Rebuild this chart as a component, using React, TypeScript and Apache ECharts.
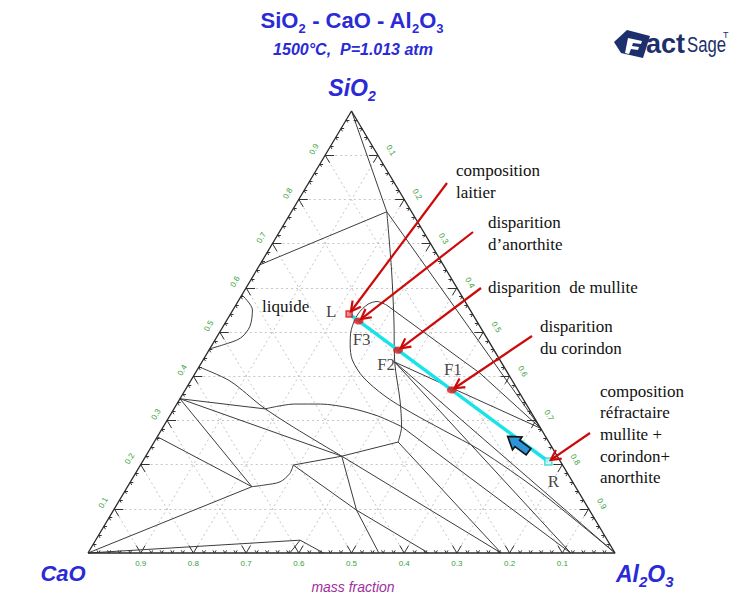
import React, { useEffect, useRef } from "react";
import * as echarts from "echarts";

type P = [number, number]; // [Al2O3, SiO2] mass fractions ; CaO = 1 - Al2O3 - SiO2

// ---------------- tick data ----------------
const majorTicks = [0.1, 0.2, 0.3, 0.4, 0.5, 0.6, 0.7, 0.8, 0.9];
const majorTickLabels = ["0.1", "0.2", "0.3", "0.4", "0.5", "0.6", "0.7", "0.8", "0.9"];
const minorStep = 0.02;

// ---------------- corners & compounds ----------------
const SIO2: P = [0, 1];
const CAO: P = [0, 0];
const AL2O3: P = [1, 0];
const MULLITE: P = [0.718, 0.282];
const ANORTHITE: P = [0.366, 0.432];
const GEHLENITE: P = [0.372, 0.219];
const C2S: P = [0, 0.349];
const C3S: P = [0, 0.263];
const C3A: P = [0.383, 0];
const CA: P = [0.646, 0];
const CA2: P = [0.784, 0];
const CA6: P = [0.916, 0];

// ---------------- liquid / junction points ----------------
const LIQ_SM: P = [0.181, 0.772];
const LIQ_CS: P = [0, 0.652];
const LIQ_CA: P = [0.388, 0.029];
const LIQ_C3S: P = [0.236, 0.15];
const LIQ_AN: P = [0.286, 0.561];
const JUNC_A: P = [0.452, 0.286];
const JUNC_B: P = [0.463, 0.251];
const JUNC_C: P = [0.461, 0.097];
const BULGE_TOP: P = [0.29, 0.199];
const HUMP_START: P = [0.173, 0.326];
const LIQ_BOT_1: P = [0.447, 0];
const LIQ_BOT_2: P = [0.552, 0];

// straight boundaries / tie lines
const straightLines: P[][] = [
  [SIO2, LIQ_SM],
  [LIQ_SM, LIQ_CS],
  [LIQ_SM, MULLITE],
  [ANORTHITE, MULLITE],
  [ANORTHITE, AL2O3],
  [ANORTHITE, CA6],
  [JUNC_A, CA6],
  [JUNC_B, CA2],
  [JUNC_B, GEHLENITE],
  [GEHLENITE, CA2],
  [GEHLENITE, JUNC_C, LIQ_BOT_2],
  [BULGE_TOP, JUNC_C, CA],
  [BULGE_TOP, GEHLENITE],
  [C2S, GEHLENITE],
  [C2S, LIQ_C3S],
  [C2S, HUMP_START],
  [C3S, LIQ_C3S],
  [CAO, LIQ_C3S],
  [CAO, LIQ_CA],
  [LIQ_CA, C3A],
  [LIQ_CA, LIQ_BOT_1],
  [LIQ_AN, [0.54, 0.407], MULLITE],
];

// curved boundaries
const verticalBoundary: P[] = [LIQ_SM, [0.256, 0.64], [0.317, 0.527], ANORTHITE, [0.419, 0.346], JUNC_A, JUNC_B];
const anorthiteLoop: P[] = [
  LIQ_AN, [0.264, 0.569], [0.25, 0.563], [0.242, 0.541], [0.247, 0.505], [0.262, 0.471],
  [0.283, 0.437], [0.323, 0.398], [0.386, 0.355], [0.452, 0.319], [0.535, 0.278],
  [0.627, 0.233], [0.789, 0.138], AL2O3,
];
const humpCurve: P[] = [HUMP_START, [0.224, 0.337], [0.272, 0.337], [0.333, 0.328], [0.395, 0.31], JUNC_A];
const leftCurve: P[] = [[0, 0.421], [0.075, 0.389], [0.167, 0.33], [0.247, 0.285], GEHLENITE];
const bulgeCurve: P[] = [LIQ_C3S, [0.259, 0.154], [0.284, 0.161], [0.293, 0.18], BULGE_TOP];
const wollastoniteArc: P[] = [[0, 0.584], [0.037, 0.55], [0.051, 0.512], [0.046, 0.486], [0.021, 0.471], [0, 0.462]];
const curvedLines: P[][] = [verticalBoundary, anorthiteLoop, humpCurve, leftCurve, bulgeCurve, wollastoniteArc];

// ---------------- cooling path ----------------
const pathL: P = [0.225, 0.541];
const pathF3: P = [0.251, 0.525];
const pathF2: P = [0.359, 0.459];
const pathF1: P = [0.506, 0.369];
const pathR: P = [0.77, 0.207];

// ---------------- layout (pixels) ----------------
const W = 729, H = 596;
const PX_L = 88, PX_R = 615, PX_T = 111, PX_B = 553;
const XMIN = -PX_L / (PX_R - PX_L);
const XMAX = (W - PX_L) / (PX_R - PX_L);
const YMIN = -(H - PX_B) / (PX_B - PX_T);
const YMAX = 1 + PX_T / (PX_B - PX_T);

const SANS = "Liberation Sans, Arial, sans-serif";
const SERIF = "Liberation Serif, Times New Roman, serif";
const BLUE = "#2a2ad6";
const NAVY = "#1d2f6c";
const GREEN = "#36a236";
const RED = "#cc0a0a";
const LINE = "#3c3c3c";

const cart = (p: P): [number, number] => [p[0] + p[1] / 2, p[1]];

export default function App() {
  const ref = useRef<HTMLDivElement>(null);
  useEffect(() => {
    const chart = echarts.init(ref.current!, null, { renderer: "svg" });

    // dotted grid
    const gridSegs: P[][] = [];
    majorTicks.forEach((k) => {
      gridSegs.push([[0, k], [1 - k, k]]);
      gridSegs.push([[k, 0], [k, 1 - k]]);
      gridSegs.push([[1 - k, 0], [0, 1 - k]]);
    });
    // edge ticks
    const tickSegs: P[][] = [];
    const n = Math.round(1 / minorStep);
    for (let i = 1; i < n; i++) {
      const v = i * minorStep;
      const major = majorTicks.some((m) => Math.abs(m - v) < 1e-6);
      const d = major ? 0.017 : 0.006;
      tickSegs.push([[v, 0], [v, d]], [[v, 0], [v - d, d]]);
      tickSegs.push([[0, v], [d, v]], [[0, v], [d, v - d]]);
      tickSegs.push([[1 - v, v], [1 - v - d, v]], [[1 - v, v], [1 - v, v - d]]);
    }

    const lineSeries = (pts: P[], smooth: number | boolean, extra: any = {}) => ({
      type: "line",
      data: pts.map(cart),
      symbol: "none",
      showSymbol: false,
      smooth,
      silent: true,
      lineStyle: { color: LINE, width: 1 },
      z: 3,
      ...extra,
    });

    const labelBase = { show: true, position: "inside", color: "#111", fontFamily: SERIF, fontSize: 17 };
    const markers = [
      { value: cart(pathL), symbol: "rect", symbolSize: 6, itemStyle: { color: "#ff7070", borderColor: "#d81010", borderWidth: 1.5 }, label: { ...labelBase, formatter: "L", offset: [-18, -2] } },
      { value: cart(pathF3), symbol: "circle", symbolSize: [10, 7], itemStyle: { color: "#e01515" }, label: { ...labelBase, formatter: "F3", offset: [3, 19] } },
      { value: cart(pathF2), symbol: "circle", symbolSize: [10, 7], itemStyle: { color: "#e01515" }, label: { ...labelBase, formatter: "F2", offset: [-12, 14] } },
      { value: cart(pathF1), symbol: "circle", symbolSize: [10, 7], itemStyle: { color: "#e01515" }, label: { ...labelBase, formatter: "F1", offset: [1, -20] } },
      { value: cart(pathR), symbol: "rect", symbolSize: 7, itemStyle: { color: "#bff6f6", borderColor: "#2ad4d4", borderWidth: 1.5 }, label: { ...labelBase, formatter: "R", offset: [5, 20] } },
    ];

    chart.setOption({
      animation: false,
      backgroundColor: "#ffffff",
      grid: { left: 0, right: 0, top: 0, bottom: 0, containLabel: false },
      xAxis: { type: "value", min: XMIN, max: XMAX, show: false },
      yAxis: { type: "value", min: YMIN, max: YMAX, show: false },
      series: [
        {
          type: "lines",
          coordinateSystem: "cartesian2d",
          silent: true,
          z: 1,
          lineStyle: { color: "#c6c6c6", width: 1, type: [2, 3], opacity: 1 },
          data: gridSegs.map((s) => ({ coords: s.map(cart) })),
        },
        {
          type: "lines",
          coordinateSystem: "cartesian2d",
          silent: true,
          z: 4,
          lineStyle: { color: "#333", width: 1, opacity: 1 },
          data: tickSegs.map((s) => ({ coords: s.map(cart) })),
        },
        ...straightLines.map((pts) => lineSeries(pts, false)),
        ...curvedLines.map((pts) => lineSeries(pts, 0.3)),
        lineSeries([CAO, AL2O3, SIO2, CAO], false, { lineStyle: { color: "#2a2a2a", width: 1.3 }, z: 5 }),
        lineSeries([pathL, pathR], false, { lineStyle: { color: "#19e3e8", width: 3.5 }, z: 6 }),
        {
          type: "scatter",
          data: markers,
          silent: true,
          z: 8,
        },
      ],
    });

    const px = (p: P): [number, number] => chart.convertToPixel({ gridIndex: 0 }, cart(p)) as [number, number];

    const g: any[] = [];
    const text = (x: number, y: number, t: string, style: any = {}, extra: any = {}) =>
      g.push({
        type: "text",
        x,
        y,
        z: 20,
        style: { text: t, fill: "#111", font: `17px ${SERIF}`, align: "left", verticalAlign: "middle", textAlign: "left", textVerticalAlign: "middle", ...style },
        ...extra,
      });

    // tick labels
    majorTicks.forEach((k, i) => {
      const b = px([k, 0]);
      text(b[0], b[1] + 10, majorTickLabels[8 - i], { fill: GREEN, font: `8px ${SANS}`, align: "center", textAlign: "center" });
      const l = px([0, k]);
      text(l[0] - 11, l[1] - 6, majorTickLabels[i], { fill: GREEN, font: `8px ${SANS}`, align: "center", textAlign: "center" }, { rotation: Math.PI / 3 });
      const r = px([k, 1 - k]);
      text(r[0] + 13, r[1] - 5, majorTickLabels[i], { fill: GREEN, font: `8px ${SANS}`, align: "center", textAlign: "center" }, { rotation: -Math.PI / 3 });
    });

    const richBlue = (size: number, sub: number, italic: boolean) => ({
      m: { fontSize: size, fontWeight: "bold", fontStyle: italic ? "italic" : "normal", fontFamily: SANS, fill: BLUE, color: BLUE, lineHeight: size + 7, verticalAlign: "middle" },
      s: { fontSize: sub, fontWeight: "bold", fontStyle: italic ? "italic" : "normal", fontFamily: SANS, fill: BLUE, color: BLUE, lineHeight: sub, verticalAlign: "bottom" },
    });

    // titles
    text(352, 20.5, "{m|SiO}{s|2}{m| - CaO - Al}{s|2}{m|O}{s|3}", { rich: richBlue(22, 13, false), align: "center", textAlign: "center" });
    text(353, 49, "1500°C,  P=1.013 atm", { fill: BLUE, font: `italic bold 16px ${SANS}`, align: "center", textAlign: "center" });
    text(352, 88, "{m|SiO}{s|2}", { rich: richBlue(23, 14, true), align: "center", textAlign: "center" });
    text(63, 573, "{m|CaO}", { rich: richBlue(22, 14, true), align: "center", textAlign: "center" });
    text(616, 574, "{m|Al}{s|2}{m|O}{s|3}", { rich: richBlue(23, 15, true) });
    text(353, 587, "mass fraction", { fill: "#a0309e", font: `italic 14px ${SANS}`, align: "center", textAlign: "center" });

    // FactSage logo
    g.push({ type: "polygon", z: 20, shape: { points: [[614, 42], [627, 30], [650, 36], [643, 58], [621, 53]] }, style: { fill: NAVY } });
    g.push({ type: "polygon", z: 21, shape: { points: [[628, 38], [642, 41], [641, 44], [633, 43], [632, 46], [639, 47], [638, 50], [631, 49], [629, 54], [625, 53]] }, style: { fill: "#ffffff" } });
    text(646, 44, "act", { fill: NAVY, font: `bold 27px ${SANS}` });
    text(687, 44, "Sage", { fill: NAVY, font: `22px ${SANS}` }, { scaleX: 0.76 });
    text(723, 35, "T", { fill: NAVY, font: `9px ${SANS}` });

    // callout texts
    text(456, 170, "composition");
    text(456, 192, "laitier");
    text(488, 222, "disparition");
    text(488, 244, "d’anorthite");
    text(488, 287, "disparition  de mullite");
    text(540, 326, "disparition");
    text(540, 348, "du corindon");
    text(600, 391, "composition");
    text(600, 412, "réfractaire");
    text(600, 434, "mullite +");
    text(600, 456, "corindon+");
    text(600, 477, "anorthite");
    text(262, 306, "liquide");

    // red arrows
    const calloutArrows: { tail: [number, number]; target: P }[] = [
      { tail: [447, 183], target: pathL },
      { tail: [473, 232], target: pathF3 },
      { tail: [481, 288], target: pathF2 },
      { tail: [532, 336], target: pathF1 },
      { tail: [590, 433], target: pathR },
    ];
    calloutArrows.forEach(({ tail, target }) => {
      const t = px(target);
      const dx = tail[0] - t[0], dy = tail[1] - t[1];
      const len = Math.hypot(dx, dy);
      const ux = dx / len, uy = dy / len;
      const tip = [t[0] + ux * 3, t[1] + uy * 3];
      g.push({ type: "line", z: 21, shape: { x1: tail[0], y1: tail[1], x2: tip[0], y2: tip[1] }, style: { stroke: RED, lineWidth: 2.2 } });
      const a = (28 * Math.PI) / 180, hl = 11;
      const rot = (ang: number) => [tip[0] + hl * (ux * Math.cos(ang) - uy * Math.sin(ang)), tip[1] + hl * (ux * Math.sin(ang) + uy * Math.cos(ang))];
      g.push({ type: "polyline", z: 21, shape: { points: [rot(a), tip, rot(-a)] }, style: { stroke: RED, lineWidth: 2.2, fill: "none" } });
    });

    // blue direction arrow on the path (pointing from R toward L)
    const pL = px(pathL), pR = px(pathR);
    const len = Math.hypot(pL[0] - pR[0], pL[1] - pR[1]);
    const ux = (pL[0] - pR[0]) / len, uy = (pL[1] - pR[1]) / len;
    const nx = -uy, ny = ux; // normal
    const cx = pR[0] + (pL[0] - pR[0]) * 0.14 - nx * 4;
    const cy = pR[1] + (pL[1] - pR[1]) * 0.14 - ny * 4;
    const pt = (along: number, side: number) => [cx + ux * along + nx * side, cy + uy * along + ny * side];
    g.push({
      type: "polygon",
      z: 22,
      shape: { points: [pt(-13, 4), pt(1, 4), pt(1, 8), pt(13, 0), pt(1, -8), pt(1, -4), pt(-13, -4)] },
      style: { fill: "#2e93d8", stroke: "#111", lineWidth: 1.6 },
    });

    chart.setOption({ graphic: { elements: g } });
    return () => chart.dispose();
  }, []);

  return <div ref={ref} style={{ position: "fixed", left: 0, top: 0, width: W, height: H, background: "#fff" }} />;
}
